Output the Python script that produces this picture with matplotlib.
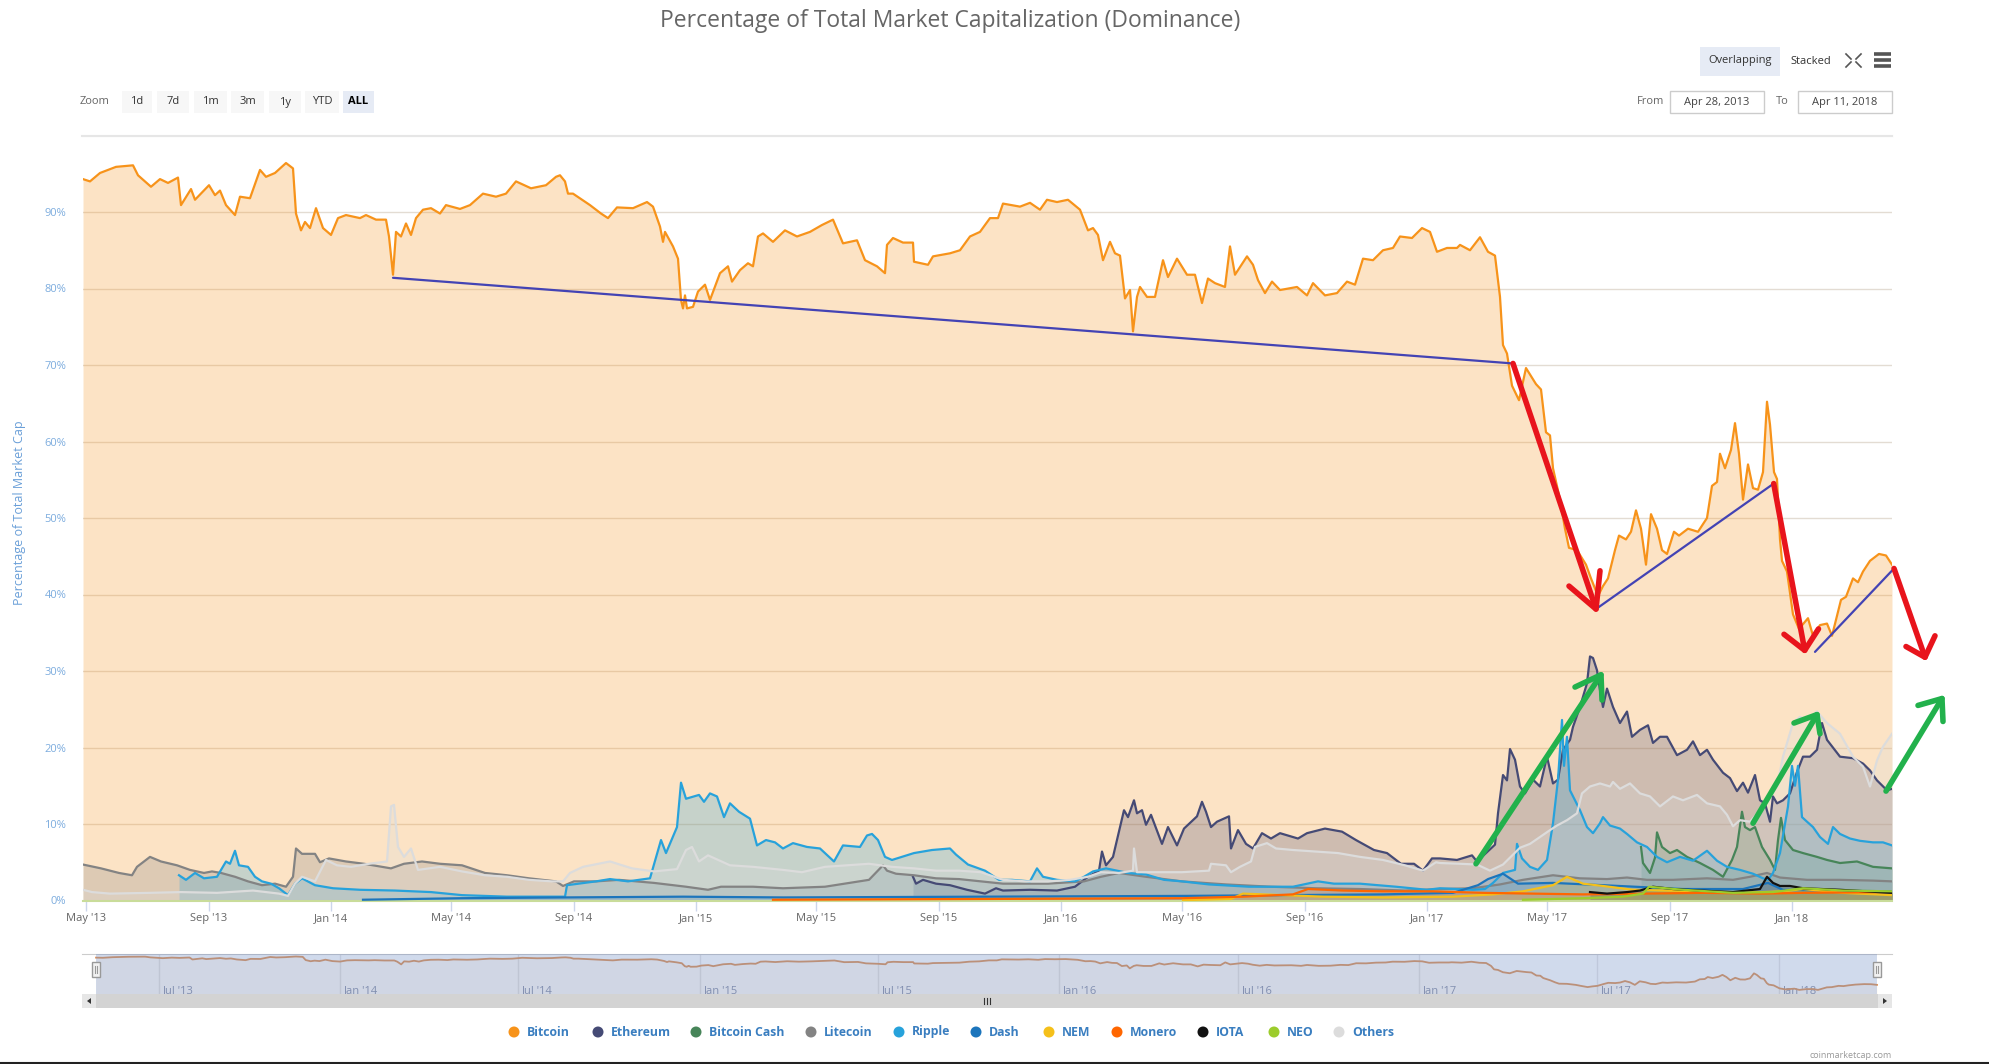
import numpy as np
import pandas as pd
import matplotlib
matplotlib.use("Agg")
import matplotlib.pyplot as plt
import matplotlib.dates as mdates
from matplotlib.patches import Rectangle, Circle, Polygon

plt.rcParams['font.family'] = ['Open Sans', 'DejaVu Sans']

W, H = 1990, 1064
START = pd.Timestamp('2013-04-28')
END = pd.Timestamp('2018-04-11')

# dominance in %, x = days since Apr 28 2013
btc_day = [0, 7, 17, 33, 50, 55, 68, 77, 85, 95, 98, 108, 112, 126, 132, 137, 143, 152, 157, 167,
           177, 183, 192, 203, 210, 213, 218, 222, 227, 233, 240, 248, 255, 263, 277, 283, 293, 303,
           306, 310, 313, 318, 323, 328, 333, 340, 348, 357, 363, 377, 387, 400, 413, 423, 433, 448,
           463, 473, 477, 482, 485, 490, 507, 518, 525, 534, 550, 564, 570, 577, 580, 582, 590, 595,
           598, 600, 602, 604, 610, 615, 622, 627, 637, 645, 649, 657, 665, 670, 675, 680, 690, 702,
           714, 727, 739, 750, 760, 774, 782, 794, 802, 804, 810, 820, 830, 831, 845, 850, 867, 877,
           887, 897, 907, 915, 920, 937, 947, 957, 964, 974, 985, 997, 1005, 1010, 1015, 1020, 1027,
           1032, 1037, 1042, 1047, 1050, 1054, 1057, 1064, 1072, 1080, 1085, 1094, 1104, 1112, 1119,
           1125, 1132, 1142, 1147, 1152, 1164, 1170, 1175, 1182, 1189, 1197, 1214, 1224, 1230, 1242,
           1254, 1264, 1272, 1280, 1290, 1300, 1310, 1317, 1329, 1339, 1347, 1354, 1364, 1374, 1377,
           1387, 1397, 1405, 1412, 1417, 1420, 1424, 1429, 1436, 1443, 1453, 1458, 1463, 1467, 1470,
           1477, 1482, 1486, 1494, 1503, 1508, 1515, 1520, 1525, 1532, 1536, 1543, 1548, 1553, 1558,
           1563, 1568, 1574, 1579, 1584, 1591, 1596, 1605, 1615, 1624, 1629, 1634, 1637, 1642, 1648,
           1652, 1656, 1660, 1665, 1670, 1675, 1680, 1684, 1687, 1691, 1694, 1697, 1699, 1704, 1710,
           1716, 1725, 1730, 1737, 1744, 1749, 1758, 1763, 1770, 1775, 1780, 1787, 1796, 1803, 1809]
btc_pct = [94.3, 94.0, 95.1, 95.9, 96.1, 94.8, 93.3, 94.3, 93.8, 94.5, 90.9, 93.0, 91.6, 93.5, 92.2,
           92.8, 90.9, 89.6, 92.0, 91.8, 95.5, 94.6, 95.1, 96.4, 95.7, 89.8, 87.6, 88.7, 87.9, 90.5,
           87.9, 87.0, 89.2, 89.6, 89.2, 89.6, 89.0, 89.0, 86.8, 81.8, 87.4, 86.8, 88.5, 87.0, 89.2,
           90.3, 90.5, 89.8, 90.9, 90.4, 90.9, 92.4, 92.0, 92.4, 94.0, 93.1, 93.5, 94.6, 94.8, 94.0,
           92.4, 92.4, 90.9, 89.8, 89.2, 90.6, 90.5, 91.3, 90.7, 88.1, 86.1, 87.4, 85.5, 83.9, 78.5,
           77.4, 79.1, 77.4, 77.6, 79.6, 80.5, 78.5, 82.0, 82.9, 80.9, 82.4, 83.3, 82.9, 86.8, 87.2,
           86.1, 87.6, 86.8, 87.4, 88.3, 89.0, 85.9, 86.3, 83.7, 82.9, 82.0, 85.7, 86.6, 86.0, 86.0,
           83.5, 83.1, 84.2, 84.6, 85.0, 86.8, 87.4, 89.2, 89.2, 91.1, 90.7, 91.2, 90.3, 91.6, 91.3,
           91.6, 90.3, 87.6, 87.9, 87.0, 83.7, 86.1, 84.6, 84.3, 78.7, 79.8, 74.4, 78.9, 80.2, 78.9,
           78.9, 83.7, 81.5, 83.9, 81.8, 81.8, 78.1, 81.3, 80.7, 80.2, 85.5, 81.8, 84.2, 83.1, 81.1,
           79.4, 80.9, 79.8, 80.2, 79.1, 80.7, 79.1, 79.4, 80.9, 80.5, 83.9, 83.7, 85.0, 85.3, 86.8,
           86.6, 87.9, 87.4, 84.8, 85.3, 85.3, 85.7, 85.0, 86.7, 84.8, 84.3, 78.9, 72.6, 71.5, 67.3,
           65.4, 69.6, 67.5, 66.8, 61.2, 60.8, 56.5, 52.4, 48.6, 46.1, 45.8, 43.9, 42.1, 39.8, 41.1,
           42.1, 45.8, 47.7, 47.2, 48.2, 51.0, 48.6, 43.9, 50.5, 48.6, 45.8, 45.3, 48.2, 47.7, 48.6,
           48.2, 50.0, 54.2, 54.7, 58.4, 56.5, 58.9, 62.4, 58.4, 52.4, 57.0, 53.9, 53.7, 56.0, 65.2,
           62.2, 56.0, 55.1, 47.2, 44.4, 43.0, 37.4, 35.5, 36.9, 34.6, 36.0, 36.2, 34.6, 39.3, 39.7,
           42.1, 41.6, 43.0, 44.4, 45.3, 45.1, 43.9]

eth_day = [830, 833, 840, 853, 867, 884, 902, 913, 920, 947, 974, 992, 1005, 1016, 1019, 1023, 1030,
           1041, 1045, 1051, 1054, 1059, 1063, 1068, 1079, 1085, 1094, 1101, 1114, 1119, 1123, 1128,
           1134, 1146, 1148, 1155, 1163, 1170, 1179, 1188, 1197, 1215, 1224, 1242, 1259, 1273, 1291,
           1304, 1318, 1331, 1340, 1349, 1357, 1374, 1389, 1394, 1412, 1415, 1420, 1424, 1427, 1432,
           1437, 1442, 1450, 1457, 1464, 1470, 1475, 1480, 1487, 1490, 1497, 1504, 1507, 1510, 1514,
           1517, 1520, 1524, 1530, 1537, 1544, 1549, 1557, 1565, 1570, 1577, 1584, 1594, 1604, 1610,
           1617, 1624, 1630, 1640, 1647, 1654, 1660, 1665, 1672, 1677, 1682, 1687, 1690, 1694, 1700,
           1707, 1714, 1720, 1727, 1734, 1739, 1744, 1757, 1770, 1780, 1787, 1794, 1804, 1809]
eth_pct = [3.1, 2.2, 2.7, 2.2, 2.0, 1.4, 0.9, 1.6, 1.3, 1.4, 1.3, 1.8, 3.1, 3.9, 6.4, 4.6, 5.7, 11.8,
           10.9, 13.1, 11.4, 11.8, 9.9, 11.2, 7.4, 9.6, 7.2, 9.4, 11.0, 12.9, 11.6, 9.6, 10.3, 11.0,
           6.8, 9.2, 7.4, 6.8, 8.8, 8.1, 8.8, 8.1, 8.8, 9.4, 9.0, 7.9, 6.6, 6.2, 4.8, 4.8, 3.9, 5.5,
           5.5, 5.3, 5.9, 5.1, 7.3, 11.4, 16.4, 15.7, 19.8, 18.4, 14.9, 14.0, 15.8, 14.9, 18.8, 15.3,
           15.8, 19.7, 21.0, 22.7, 25.3, 28.4, 31.9, 31.7, 30.1, 27.5, 25.3, 27.7, 25.3, 23.2, 24.7,
           21.4, 22.3, 22.9, 20.6, 21.4, 21.4, 19.0, 19.7, 20.8, 19.0, 19.7, 18.4, 16.7, 16.0, 14.3,
           15.4, 14.1, 16.4, 13.1, 12.7, 10.3, 13.6, 12.7, 13.1, 14.0, 16.8, 18.8, 18.8, 19.7, 23.2,
           21.0, 18.8, 18.6, 17.9, 17.0, 15.7, 14.4, 14.6]

bch_day = [1558, 1560, 1567, 1572, 1574, 1579, 1587, 1594, 1604, 1617, 1630, 1640, 1649, 1654, 1659,
           1662, 1667, 1672, 1679, 1687, 1692, 1695, 1698, 1702, 1710, 1720, 1734, 1744, 1757, 1774,
           1790, 1809]
bch_pct = [7.0, 4.9, 3.6, 5.6, 8.9, 7.0, 6.2, 6.6, 5.7, 4.9, 4.0, 3.1, 5.3, 7.0, 11.6, 9.6, 9.2, 9.6,
           7.0, 5.3, 4.0, 7.9, 10.8, 7.9, 6.6, 6.2, 5.7, 5.3, 4.9, 5.1, 4.4, 4.2]

ltc_day = [0, 18, 36, 49, 54, 67, 78, 94, 107, 121, 129, 138, 152, 165, 179, 192, 203, 210, 213, 219,
           232, 237, 246, 263, 281, 308, 321, 339, 357, 379, 402, 424, 446, 473, 480, 491, 513, 536,
           571, 603, 625, 638, 670, 700, 742, 786, 800, 804, 813, 831, 853, 876, 898, 920, 965, 1001,
           1018, 1036, 1063, 1099, 1143, 1188, 1233, 1277, 1322, 1357, 1390, 1417, 1440, 1470, 1497,
           1524, 1544, 1564, 1590, 1624, 1650, 1667, 1684, 1697, 1724, 1757, 1790, 1809]
ltc_pct = [4.7, 4.2, 3.6, 3.3, 4.4, 5.7, 5.1, 4.6, 4.0, 3.6, 3.8, 3.6, 3.1, 2.5, 2.0, 2.2, 1.8, 3.1,
           6.8, 6.1, 6.1, 5.0, 5.5, 5.1, 4.8, 4.2, 4.8, 5.1, 4.8, 4.6, 3.6, 3.3, 2.9, 2.5, 1.9, 2.5,
           2.5, 2.7, 2.3, 1.8, 1.4, 1.8, 1.8, 1.6, 1.8, 2.7, 4.6, 3.9, 3.5, 3.3, 2.9, 2.8, 2.5, 2.2,
           2.2, 2.5, 3.1, 3.6, 3.1, 2.5, 2.1, 1.8, 1.6, 1.5, 1.3, 1.5, 1.6, 2.1, 2.7, 3.3, 2.9, 2.8,
           3.0, 2.7, 2.7, 2.9, 2.7, 3.1, 3.6, 3.0, 2.7, 2.7, 2.6, 2.5]

xrp_day = [96, 103, 112, 121, 134, 143, 147, 152, 156, 165, 172, 179, 188, 196, 205, 212, 219, 232,
           250, 277, 312, 348, 379, 424, 482, 484, 513, 527, 545, 567, 578, 583, 594, 598, 603, 616,
           621, 627, 634, 641, 647, 656, 667, 674, 683, 692, 700, 710, 724, 737, 751, 760, 777, 784,
           789, 795, 802, 809, 831, 849, 867, 873, 885, 902, 916, 929, 947, 954, 960, 974, 992, 1001,
           1010, 1023, 1045, 1063, 1081, 1099, 1126, 1166, 1210, 1235, 1251, 1277, 1313, 1344, 1357,
           1390, 1402, 1410, 1420, 1432, 1434, 1439, 1447, 1455, 1464, 1470, 1475, 1479, 1481, 1484,
           1487, 1492, 1497, 1504, 1510, 1517, 1520, 1527, 1537, 1544, 1554, 1564, 1574, 1584, 1597,
           1610, 1624, 1634, 1644, 1657, 1670, 1680, 1685, 1690, 1697, 1705, 1709, 1712, 1715, 1719,
           1724, 1730, 1737, 1745, 1750, 1757, 1767, 1777, 1790, 1800, 1809]
xrp_pct = [3.3, 2.7, 3.6, 2.9, 3.1, 5.1, 4.8, 6.5, 4.6, 4.4, 3.1, 2.5, 2.2, 1.6, 0.7, 2.2, 2.9, 2.0,
           1.6, 1.4, 1.3, 1.1, 0.7, 0.5, 0.5, 2.0, 2.5, 2.8, 2.5, 2.9, 7.9, 6.2, 9.6, 15.4, 13.3, 13.8,
           12.9, 14.0, 13.6, 10.9, 12.7, 11.6, 10.7, 7.2, 7.9, 7.6, 6.8, 7.5, 7.0, 6.8, 5.1, 7.2, 7.0,
           8.5, 8.7, 7.9, 5.7, 5.3, 6.2, 6.6, 6.8, 6.0, 4.7, 3.9, 2.7, 2.7, 2.5, 4.2, 3.1, 2.7, 2.5,
           3.1, 3.8, 4.2, 3.6, 3.4, 2.7, 2.5, 2.1, 1.8, 1.8, 2.5, 2.2, 2.2, 1.8, 1.4, 1.6, 1.4, 1.5,
           2.3, 3.6, 4.0, 7.4, 5.5, 4.4, 4.0, 5.3, 10.1, 15.8, 23.6, 17.6, 21.4, 14.4, 13.1, 11.8, 9.6,
           8.8, 10.1, 10.9, 9.8, 9.4, 8.7, 7.6, 7.0, 5.7, 5.0, 5.7, 5.2, 6.5, 5.2, 4.4, 4.0, 3.5, 2.9,
           2.7, 3.6, 6.2, 12.3, 17.6, 15.0, 17.6, 10.9, 10.3, 9.6, 8.3, 7.4, 9.6, 8.7, 8.1, 7.8, 7.6,
           7.6, 7.2]

dash_day = [280, 379, 480, 600, 700, 900, 1100, 1300, 1370, 1395, 1405, 1420, 1435, 1470, 1520,
            1600, 1660, 1685, 1700, 1750, 1809]
dash_pct = [0.1, 0.3, 0.4, 0.5, 0.4, 0.5, 0.6, 0.8, 1.0, 2.0, 2.8, 3.5, 2.2, 2.3, 2.0, 1.5, 1.5,
            2.3, 1.4, 1.3, 1.2]

nem_day = [1100, 1148, 1160, 1200, 1240, 1300, 1370, 1410, 1440, 1470, 1484, 1500, 1520, 1550, 1580,
           1620, 1660, 1700, 1720, 1760, 1809]
nem_pct = [0.05, 0.2, 0.9, 0.7, 0.5, 0.4, 0.5, 0.8, 1.2, 2.0, 3.1, 2.2, 1.9, 1.4, 1.3, 1.2, 1.0,
           1.2, 1.5, 1.0, 0.7]

xmr_day = [690, 900, 1100, 1160, 1210, 1225, 1260, 1300, 1350, 1400, 1450, 1500, 1560, 1620, 1680,
           1720, 1809]
xmr_pct = [0.1, 0.2, 0.3, 0.5, 0.8, 1.5, 1.3, 1.2, 1.2, 1.0, 0.9, 0.8, 0.9, 1.0, 0.9, 1.0, 1.1]

iota_day = [1507, 1524, 1544, 1557, 1570, 1590, 1617, 1650, 1677, 1684, 1690, 1697, 1707, 1720, 1757,
            1809]
iota_pct = [1.1, 0.9, 1.1, 1.3, 1.8, 1.5, 1.3, 1.1, 1.5, 3.1, 2.3, 1.9, 1.9, 1.6, 1.4, 1.0]

neo_day = [1440, 1500, 1540, 1560, 1566, 1600, 1650, 1690, 1720, 1760, 1809]
neo_pct = [0.1, 0.3, 0.5, 0.9, 1.8, 1.4, 1.0, 1.1, 1.6, 1.3, 1.2]

oth_day = [0, 9, 27, 67, 98, 134, 170, 196, 205, 212, 219, 232, 243, 254, 268, 286, 304, 308, 311,
           315, 321, 328, 335, 357, 379, 402, 424, 446, 469, 480, 487, 500, 527, 549, 571, 594, 603,
           609, 616, 625, 647, 670, 700, 719, 742, 764, 786, 809, 831, 853, 876, 898, 920, 943, 965,
           987, 1005, 1018, 1036, 1050, 1051, 1054, 1076, 1099, 1126, 1128, 1143, 1148, 1157, 1168,
           1172, 1184, 1193, 1210, 1233, 1255, 1277, 1300, 1322, 1340, 1353, 1357, 1377, 1394, 1407,
           1420, 1430, 1437, 1447, 1457, 1467, 1474, 1484, 1494, 1499, 1507, 1517, 1527, 1530, 1537,
           1547, 1557, 1567, 1577, 1590, 1600, 1614, 1624, 1637, 1644, 1650, 1657, 1667, 1677, 1687,
           1694, 1700, 1710, 1717, 1724, 1734, 1744, 1757, 1770, 1780, 1787, 1794, 1800, 1809]
oth_pct = [1.4, 1.1, 0.9, 1.0, 1.1, 1.0, 1.3, 0.9, 0.6, 2.2, 3.1, 2.5, 5.3, 4.6, 4.4, 4.8, 5.1, 12.3,
           12.5, 7.0, 5.7, 6.8, 4.0, 4.4, 3.8, 3.3, 3.1, 2.7, 2.5, 2.5, 3.6, 4.4, 5.1, 4.2, 3.8, 4.1,
           6.6, 7.0, 5.1, 5.9, 4.6, 4.4, 4.0, 3.7, 4.4, 4.6, 4.8, 4.4, 4.2, 3.9, 3.9, 3.7, 2.7, 2.5,
           2.5, 2.7, 3.1, 3.7, 3.6, 3.9, 6.8, 3.7, 3.7, 3.7, 3.9, 4.8, 4.6, 3.7, 4.4, 5.1, 7.0, 7.5,
           6.8, 6.6, 6.4, 6.2, 5.7, 5.3, 4.6, 3.9, 5.0, 4.9, 4.8, 4.7, 3.9, 4.7, 6.0, 6.9, 7.4, 8.3,
           9.2, 9.8, 10.5, 11.4, 14.0, 14.9, 15.3, 14.9, 15.5, 14.6, 15.3, 14.0, 13.6, 12.3, 13.6,
           13.1, 13.8, 12.7, 12.3, 11.2, 9.7, 10.5, 10.3, 11.8, 13.6, 14.9, 18.8, 23.2, 24.0, 23.6,
           24.7, 23.2, 21.8, 18.8, 17.5, 14.9, 18.3, 20.1, 21.8]

coins = ['Bitcoin', 'Ethereum', 'Bitcoin Cash', 'Litecoin', 'Ripple', 'Dash', 'NEM', 'Monero',
         'IOTA', 'NEO', 'Others']
colors = ['#f7931a', '#454a75', '#478559', '#838383', '#27a2db', '#1c75bc', '#f5c01a', '#ff6600',
          '#111111', '#9ccc2c', '#dcdcdc']
series = [(btc_day, btc_pct), (eth_day, eth_pct), (bch_day, bch_pct), (ltc_day, ltc_pct),
          (xrp_day, xrp_pct), (dash_day, dash_pct), (nem_day, nem_pct), (xmr_day, xmr_pct),
          (iota_day, iota_pct), (neo_day, neo_pct), (oth_day, oth_pct)]

# hand drawn marks on top of the chart, (day, %) pairs
blue_lines = [[(310, 81.4), (1430, 70.2)], [(1513, 38.1), (1690.7, 54.5)], [(1732, 32.5), (1811, 43.4)]]
red_arrows = [[(1430, 70.2), (1513, 38.1), (1486, 41.1), (1517, 43.1)],
              [(1690.7, 54.5), (1721.7, 32.7), (1701, 34.8), (1735.5, 35.5)],
              [(1811, 43.4), (1842, 31.8), (1823, 33.2), (1852, 34.6)]]
green_arrows = [[(1393, 4.8), (1518, 29.5), (1492, 27.9), (1519, 26.2)],
                [(1670, 10.1), (1734, 24.3), (1711, 23.2), (1737, 21.8)],
                [(1803, 14.3), (1859, 26.4), (1835, 25.5), (1860, 23.4)]]


def to_dates(days):
    return (START + pd.to_timedelta(np.asarray(days, dtype=float), unit='D')).values


def draw_mark(ax, pts, color, lw):
    d = to_dates([p[0] for p in pts])
    v = [p[1] for p in pts]
    ax.plot(d, v, color=color, lw=lw, solid_capstyle='round', solid_joinstyle='round',
            clip_on=False, zorder=20)


fig = plt.figure(figsize=(W / 100, H / 100), dpi=100)

# main chart
ax = fig.add_axes([83 / W, (H - 900.5) / H, 1809 / W, 765 / H])
for (d, v), c in zip(series, colors):
    dd = to_dates(d)
    ax.fill_between(dd, v, 0, color=c, alpha=0.25, lw=0, zorder=2)
    ax.plot(dd, v, color=c, lw=1.6, zorder=3)

ax.set_xlim(START, END)
ax.set_ylim(0, 100)
ax.set_yticks(range(0, 100, 10))
ax.set_yticklabels([f'{v}%' for v in range(0, 100, 10)])
ax.grid(axis='y', color='#e3dcd3', lw=1, zorder=0)
ax.set_axisbelow(True)
ax.xaxis.set_major_locator(mdates.MonthLocator(bymonth=[1, 5, 9]))
ax.xaxis.set_major_formatter(mdates.DateFormatter("%b '%y"))
ax.tick_params(axis='x', length=7, width=1, color='#ccd6eb', labelcolor='#666666', labelsize=8, pad=2)
ax.tick_params(axis='y', length=0, labelcolor='#7cacde', labelsize=8, pad=12)
for s in ['left', 'right']:
    ax.spines[s].set_visible(False)
ax.spines['top'].set_color('#e6e6e6')
ax.spines['bottom'].set_color('#c9dc9a')
ax.spines['bottom'].set_linewidth(1.5)

for pts in blue_lines:
    draw_mark(ax, pts, '#4343b4', 1.6)
for tail, tip, w1, w2 in red_arrows:
    draw_mark(ax, [tail, tip], '#e8141c', 4)
    draw_mark(ax, [w1, tip, w2], '#e8141c', 4)
for tail, tip, w1, w2 in green_arrows:
    draw_mark(ax, [tail, tip], '#22b14c', 4)
    draw_mark(ax, [w1, tip, w2], '#22b14c', 4)

# navigator
nav = fig.add_axes([82 / W, (H - 994) / H, 1810 / W, 40 / H])
nav.set_xlim(START - pd.Timedelta(days=14.2), END + pd.Timedelta(days=15.2))
nav.set_ylim(27, 101)
bd = to_dates(btc_day)
nav.fill_between(bd, btc_pct, 0, color='#f7931a', alpha=0.05, lw=0)
nav.plot(bd, btc_pct, color='#e0955a', lw=1.3)
for t in pd.date_range(START, END, freq='MS'):
    if t.month in (1, 7):
        nav.axvline(t, color='#e6e6e6', lw=1, zorder=0)
        nav.text(t + pd.Timedelta(days=4), 34, t.strftime("%b '%y"), fontsize=8, color='#8d93a8',
                 ha='left', va='center', zorder=1)
nav.axvspan(START, END, color=(102 / 255, 133 / 255, 194 / 255), alpha=0.3, lw=0, zorder=4)
nav.set_xticks([])
nav.set_yticks([])
for s in ['left', 'right', 'bottom']:
    nav.spines[s].set_visible(False)
nav.spines['top'].set_color('#cccccc')

# page furniture in pixel coordinates
ui = fig.add_axes([0, 0, 1, 1], zorder=10)
ui.set_xlim(0, W)
ui.set_ylim(H, 0)
ui.axis('off')
ui.patch.set_alpha(0)

ui.text(950, 21, 'Percentage of Total Market Capitalization (Dominance)', ha='center', va='center',
        fontsize=16.5, color='#666666')
ui.text(20, 513, 'Percentage of Total Market Cap', rotation=90, ha='center', va='center',
        fontsize=9, color='#6a9fd8')

# chart type buttons
ui.add_patch(Rectangle((1700, 47), 80, 29, color='#e6ebf5', lw=0))
ui.text(1740, 61, 'Overlapping', ha='center', va='center', fontsize=8, color='#333333')
ui.text(1811, 61, 'Stacked', ha='center', va='center', fontsize=8, color='#333333')
for x0, y0, x1, y1 in [(1846, 54, 1851, 59), (1861, 54, 1856, 59), (1846, 67, 1851, 62), (1861, 67, 1856, 62)]:
    ui.plot([x0, x1], [y0, y1], color='#555555', lw=1.2)
for yy in (54, 60, 66):
    ui.plot([1874, 1891], [yy, yy], color='#555555', lw=2.6, solid_capstyle='butt')

# range selector
ui.text(80, 102, 'Zoom', ha='left', va='center', fontsize=8, color='#666666')
zoom_labels = ['1d', '7d', '1m', '3m', '1y', 'YTD', 'ALL']
zoom_x = [122, 157, 194, 231, 269, 305, 343]
zoom_w = [30, 32, 33, 33, 32, 34, 31]
for lab, x0, w in zip(zoom_labels, zoom_x, zoom_w):
    sel = lab == 'ALL'
    ui.add_patch(Rectangle((x0, 91), w, 22, color='#e6ebf5' if sel else '#f7f7f7', lw=0))
    ui.text(x0 + w / 2, 102, lab, ha='center', va='center', fontsize=8, color='#000000' if sel else '#333333',
            fontweight='bold' if sel else 'normal')
ui.text(1664, 102, 'From', ha='right', va='center', fontsize=8, color='#666666')
ui.text(1789, 102, 'To', ha='right', va='center', fontsize=8, color='#666666')
for x0, lab in [(1670, 'Apr 28, 2013'), (1798, 'Apr 11, 2018')]:
    ui.add_patch(Rectangle((x0, 91), 94, 22, facecolor='white', edgecolor='#cccccc', lw=1))
    ui.text(x0 + 47, 102, lab, ha='center', va='center', fontsize=8, color='#444444')
ui.plot([82, 1892], [135.5, 135.5], color='#e6e6e6', lw=1.5)

# navigator handles and scrollbar
for hx in (96, 1877):
    ui.add_patch(Rectangle((hx - 4, 962), 8, 15, facecolor='#f2f2f2', edgecolor='#999999', lw=1))
    ui.plot([hx - 1, hx - 1], [966, 973], color='#999999', lw=0.8)
    ui.plot([hx + 1, hx + 1], [966, 973], color='#999999', lw=0.8)
ui.add_patch(Rectangle((82, 994), 1810, 14, color='#d3d3d3', lw=0))
ui.add_patch(Rectangle((82, 994), 14, 14, color='#e6e6e6', lw=0))
ui.add_patch(Rectangle((1878, 994), 14, 14, color='#e6e6e6', lw=0))
ui.add_patch(Polygon([(87, 1001), (91, 998), (91, 1004)], color='#333333', lw=0))
ui.add_patch(Polygon([(1887, 1001), (1883, 998), (1883, 1004)], color='#333333', lw=0))
for gx in (984, 987, 990):
    ui.plot([gx, gx], [998, 1004], color='#333333', lw=0.8)

# legend
legend_x = [514, 598, 696, 811, 899, 976, 1049, 1117, 1203, 1274, 1339]
for name, c, lx in zip(coins, colors, legend_x):
    ui.add_patch(Circle((lx, 1032), 5.5, color=c, lw=0))
    ui.text(lx + 13, 1032, name, ha='left', va='center', fontsize=8.8, color='#3a7ec0',
            fontweight='bold')
ui.text(1892, 1055, 'coinmarketcap.com', ha='right', va='center', fontsize=6.5, color='#999999')
ui.plot([0, W], [1063, 1063], color='#222222', lw=1.5)

fig.savefig('out.png', dpi=100)
